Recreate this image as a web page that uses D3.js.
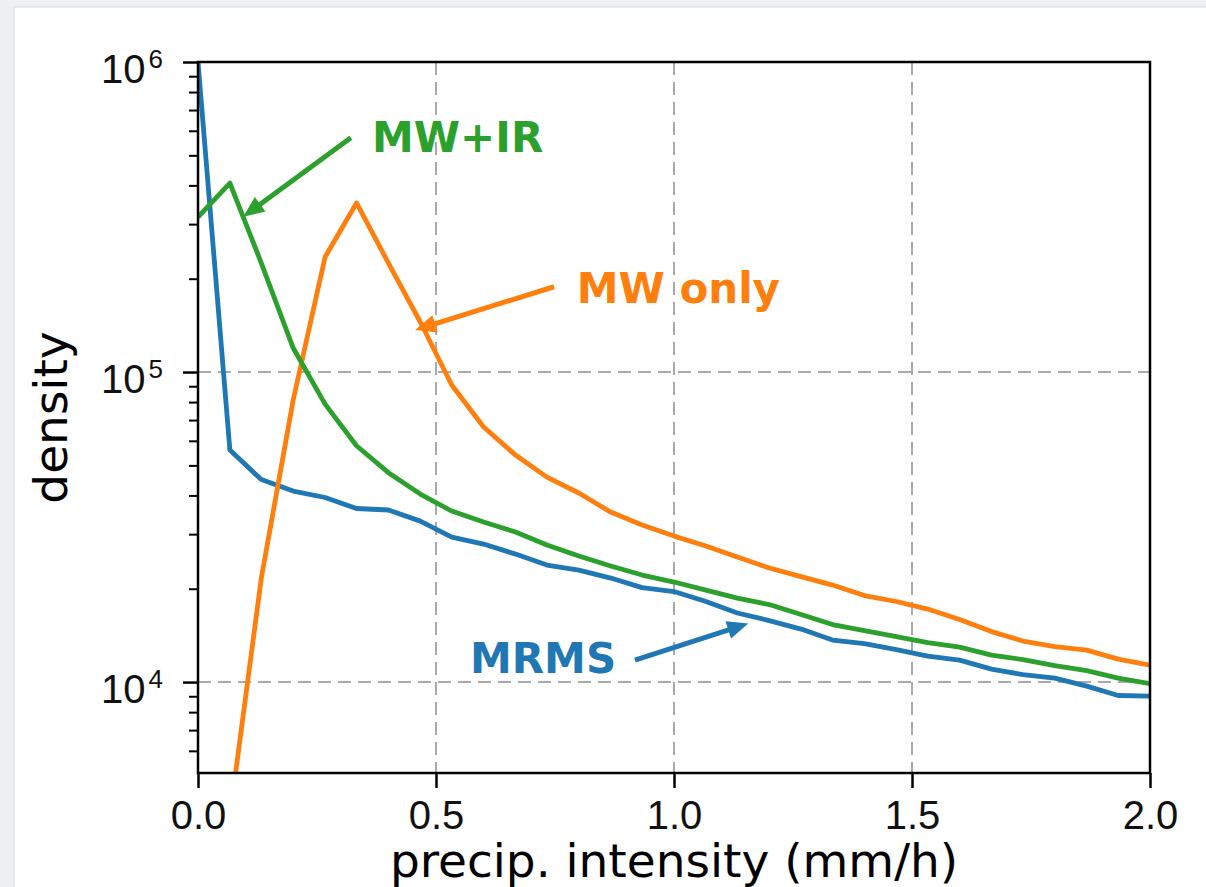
<!DOCTYPE html>
<html>
<head>
<meta charset="utf-8">
<script src="https://d3js.org/d3.v7.min.js"></script>
<style>
    html, body { margin: 0; padding: 0; background: #fff; overflow: hidden; }
    svg { display: block; font-family: 'DejaVu Sans', sans-serif; }
    .axis .domain { display: none; }
    .axis line { stroke: #000; }
    .axis text { fill: #111; }
    .grid line { stroke: #aaaaaa; stroke-width: 2; stroke-dasharray: 13, 7; }
    .curve { fill: none; stroke-width: 4.8; stroke-linejoin: round; }
    .note { font-weight: bold; font-size: 42px; }
</style>
</head>
<body>
<div id="chart"></div>
<script>
(function () {'use strict';

/*
 * DATA
 */
var precip = [0, 0.067, 0.133, 0.2, 0.267, 0.333, 0.4, 0.467, 0.533, 0.6,
              0.667, 0.733, 0.8, 0.867, 0.933, 1.0, 1.067, 1.133, 1.2, 1.267,
              1.333, 1.4, 1.467, 1.533, 1.6, 1.667, 1.733, 1.8, 1.867, 1.933, 2.0];

var mrms   = [1000000, 56000, 44990, 41310, 39380, 36290, 35890, 33050, 29360, 27870,
              25870, 23850, 22970, 21650, 20170, 19590, 18190, 16700, 15790, 14820,
              13660, 13310, 12730, 12130, 11770, 11010, 10570, 10300, 9700, 9050, 9010];

var mwOnly = [1500, 3700, 21650, 81240, 234900, 351000, 224700, 145000, 90800, 66460,
              53970, 45830, 40720, 35340, 32100, 29570, 27460, 25300, 23330, 21890,
              20550, 19010, 18190, 17200, 15910, 14550, 13560, 13020, 12680, 11860, 11340];

var mwIr   = [316000, 407000, 224700, 119500, 78800, 57840, 47360, 40400, 35620, 32820,
              30470, 27660, 25490, 23680, 22140, 21020, 19800, 18660, 17780, 16510,
              15330, 14660, 14020, 13410, 12970, 12220, 11820, 11300, 10890, 10300, 9890];

var seriesNames  = ['MRMS', 'MW only', 'MW+IR'];
var seriesColors = ['#1f77b4', '#ff7f0e', '#2ca02c'];

var xTicks = [0, 0.5, 1.0, 1.5, 2.0];
var yTicks = [1e4, 1e5, 1e6];

// annotations, in data coordinates
var noteText  = ['MW+IR', 'MW only', 'MRMS'];
var noteColor = ['#2ca02c', '#ff7f0e', '#1f77b4'];
var noteAt    = [[0.3655, 513000], [0.7956, 166600], [0.5714, 10670]];
var arrowFrom = [[0.321, 570000],  [0.748, 188400],  [0.918, 11770]];
var arrowTo   = [[0.095, 317000],  [0.4559, 136600], [1.156, 15460]];

/*
 * LAYOUT
 */
var W = 1206,
    H = 887,
    margin = { top: 62, left: 198, right: 56, bottom: 114 },
    width  = W - margin.left - margin.right,
    height = H - margin.top - margin.bottom;

var x = d3.scaleLinear().domain([0, 2]).range([0, width]),
    y = d3.scaleLog().domain([5090, 1e6]).range([height, 0]);

var svg = d3.select('#chart')
    .append('svg')
        .attr('width', W)
        .attr('height', H);

// grey page strips, then the white panel
svg.append('rect')
    .attr('width', W)
    .attr('height', H)
    .attr('fill', '#eef0f1');

svg.append('rect')
    .attr('x', 14)
    .attr('y', 7)
    .attr('width', W + 10)
    .attr('height', H + 10)
    .attr('fill', '#fff')
    .attr('stroke', '#d5d8db')
    .attr('stroke-width', 1);

var chart = svg.append('g')
    .attr('transform', 'translate(' + margin.left + ',' + margin.top + ')');

chart.append('clipPath')
    .attr('id', 'plot-clip')
    .append('rect')
        .attr('width', width)
        .attr('height', height);

/*
 * GRID
 */
chart.append('g')
    .attr('class', 'grid')
    .selectAll('line.gx')
    .data(xTicks.slice(1, -1))
    .enter().append('line')
        .attr('x1', function (d) { return x(d); })
        .attr('x2', function (d) { return x(d); })
        .attr('y1', 0)
        .attr('y2', height);

chart.append('g')
    .attr('class', 'grid')
    .selectAll('line.gy')
    .data(yTicks.slice(0, -1))
    .enter().append('line')
        .attr('x1', 0)
        .attr('x2', width)
        .attr('y1', function (d) { return y(d); })
        .attr('y2', function (d) { return y(d); });

/*
 * CURVES
 */
var line = d3.line()
    .x(function (d) { return x(d[0]); })
    .y(function (d) { return y(d[1]); });

[mrms, mwOnly, mwIr].forEach(function (values, i) {
    chart.append('path')
        .attr('class', 'curve')
        .attr('clip-path', 'url(#plot-clip)')
        .attr('stroke', seriesColors[i])
        .attr('d', line(d3.zip(precip, values)))
        .append('title')
            .text(seriesNames[i]);
});

/*
 * AXES
 */
var xAxis = chart.append('g')
    .attr('class', 'axis x')
    .attr('transform', 'translate(0,' + height + ')')
    .call(d3.axisBottom(x)
        .tickValues(xTicks)
        .tickSize(15)
        .tickPadding(13)
        .tickFormat(d3.format('.1f')));

xAxis.selectAll('line').attr('stroke-width', 2.5);
xAxis.selectAll('text').attr('font-size', 40);

// minor ticks on the log axis
chart.append('g')
    .attr('class', 'axis y minor')
    .call(d3.axisLeft(y)
        .tickValues(y.ticks().filter(function (d) { return yTicks.indexOf(d) < 0; }))
        .tickSize(9)
        .tickFormat(''))
    .selectAll('line')
        .attr('stroke-width', 2);

var yAxis = chart.append('g')
    .attr('class', 'axis y')
    .call(d3.axisLeft(y)
        .tickValues(yTicks)
        .tickSize(15)
        .tickPadding(20)
        .tickFormat(''));

yAxis.selectAll('line').attr('stroke-width', 2.5);
yAxis.selectAll('.tick text')
    .attr('dy', '0.52em')
    .attr('font-size', 40)
    .each(function (d) {
        var t = d3.select(this);
        t.append('tspan').text('10');
        t.append('tspan')
            .attr('dx', 3)
            .attr('dy', -15)
            .attr('font-size', 26)
            .text(Math.round(Math.log10(d)));
    });

// frame
chart.append('rect')
    .attr('width', width)
    .attr('height', height)
    .attr('fill', 'none')
    .attr('stroke', '#000')
    .attr('stroke-width', 2.5);

chart.append('text')
    .attr('x', width / 2)
    .attr('y', height + 104)
    .attr('text-anchor', 'middle')
    .attr('font-size', 47)
    .text('precip. intensity (mm/h)');

chart.append('text')
    .attr('transform', 'translate(' + (67 - margin.left) + ',' + (height / 2) + ') rotate(-90)')
    .attr('text-anchor', 'middle')
    .attr('font-size', 47)
    .text('density');

/*
 * ANNOTATIONS
 */
var headLen = 21, headHalf = 9;

noteText.forEach(function (label, i) {
    var x1 = x(arrowFrom[i][0]), y1 = y(arrowFrom[i][1]),
        x2 = x(arrowTo[i][0]),   y2 = y(arrowTo[i][1]),
        len = Math.hypot(x2 - x1, y2 - y1),
        ux = (x2 - x1) / len, uy = (y2 - y1) / len,
        bx = x2 - ux * headLen, by = y2 - uy * headLen;

    chart.append('line')
        .attr('x1', x1)
        .attr('y1', y1)
        .attr('x2', bx + ux * 2)
        .attr('y2', by + uy * 2)
        .attr('stroke', noteColor[i])
        .attr('stroke-width', 5);

    chart.append('path')
        .attr('fill', noteColor[i])
        .attr('d', 'M' + x2 + ',' + y2 +
                   'L' + (bx - uy * headHalf) + ',' + (by + ux * headHalf) +
                   'L' + (bx + uy * headHalf) + ',' + (by - ux * headHalf) + 'Z');

    chart.append('text')
        .attr('class', 'note')
        .attr('x', x(noteAt[i][0]))
        .attr('y', y(noteAt[i][1]))
        .attr('fill', noteColor[i])
        .text(label);
});

})();
</script>
</body>
</html>
